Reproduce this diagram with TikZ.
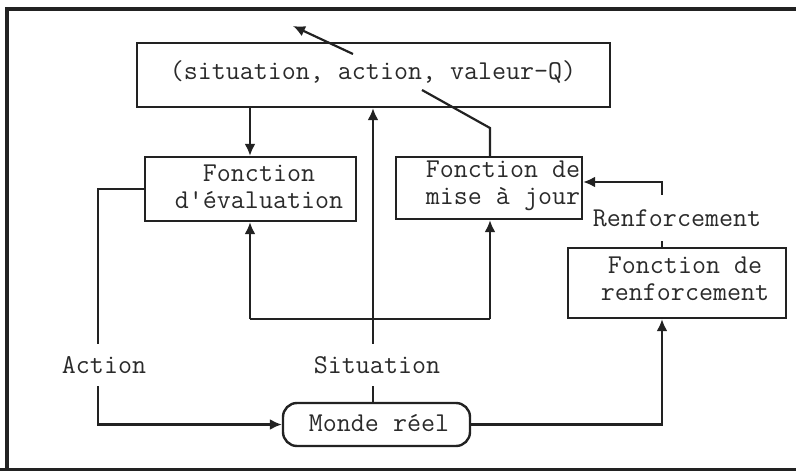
\documentclass[tikz,border=0pt]{standalone}
\usepackage{fontspec}
\usetikzlibrary{arrows.meta}
\definecolor{ink}{HTML}{222222}
\definecolor{textink}{HTML}{2A2A2A}
\begin{document}
\begin{tikzpicture}[x=1pt,y=-1pt,
  box/.style={draw=ink, line width=2.4pt, inner sep=0pt},
  txt/.style={font=\ttfamily\fontsize{27.2}{27}\selectfont, text=textink, align=center, inner sep=0pt},
  lbl/.style={txt, fill=white, inner xsep=3pt, inner ysep=12pt},
  wire/.style={draw=ink, line width=2.2pt},
  arr/.style={wire, -{Latex[length=12pt,width=11pt]}},
  frame/.style={draw=ink, line width=3.2pt}]
\useasboundingbox (0,0) rectangle (796,471);

% outer frame
\draw[frame] (5,9) -- (796,9);
\draw[frame] (7,9) -- (7,471);
\draw[frame] (0,469.5) -- (796,469.5);

% boxes
\node[box, minimum width=473pt, minimum height=64pt] (table) at (373.5,75) {};
\node[txt] (tabletext) at (373,72) {(situation, action, valeur-Q)};

\node[box, minimum width=211pt, minimum height=64pt] (eval) at (250.5,189) {};
\node[txt] (evaltext) at (259,187) {Fonction\\d'évaluation};

\node[box, minimum width=186pt, minimum height=62pt] (maj) at (489,188) {};
\node[txt] (majtext) at (503,186) {Fonction de\\mise à jour};

\node[box, minimum width=218pt, minimum height=70pt] (renf) at (677,283) {};
\node[txt] (renftext) at (685,279) {Fonction de\\renforcement};

\node[box, rounded corners=14pt, minimum width=187pt, minimum height=43pt] (monde) at (376.5,424.5) {};
\node[txt] (mondetext) at (379,423) {Monde réel};

% connector corners and junctions
\coordinate (jl) at (250,319);
\coordinate (jr) at (490,319);
\coordinate (js) at (373,319);
\coordinate (acorner) at (98,424.5);
\coordinate (rcorner) at (662,424.5);
\coordinate (rtop) at (662,182);
\coordinate (upd1) at (490,128);
\coordinate (upd2) at (422,90);
\coordinate (upd3) at (353,54);
\coordinate (upd4) at (293,26);

% evaluation reads the table
\draw[arr] (table.south -| jl) -- (eval.north -| jl);

% situation feeds the table and both functions
\draw[arr] (monde.north -| js) -- (table.south -| js);
\draw[wire] (jl) -- (jr);
\draw[arr] (jl) -- (eval.south -| jl);
\draw[arr] (jr) -- (maj.south -| jr);

% action goes to the world
\draw[arr] (eval.west) -| (acorner) -- (monde.west);

% reinforcement loop
\draw[arr] (monde.east) -| (renf.south -| rcorner);
\draw[arr] (renf.north -| rtop) -- (rtop) -- (maj.east |- rtop);

% update of the table
\draw[wire] (maj.north -| upd1) -- (upd1) -- (upd2);
\draw[arr] (upd3) -- (upd4);

% connector labels
\node[lbl] (actlbl) at (104,365) {Action};
\node[lbl] (sitlbl) at (377,365) {Situation};
\node[lbl, inner ysep=14pt] (renflbl) at (677,218) {Renforcement};
\end{tikzpicture}
\end{document}
